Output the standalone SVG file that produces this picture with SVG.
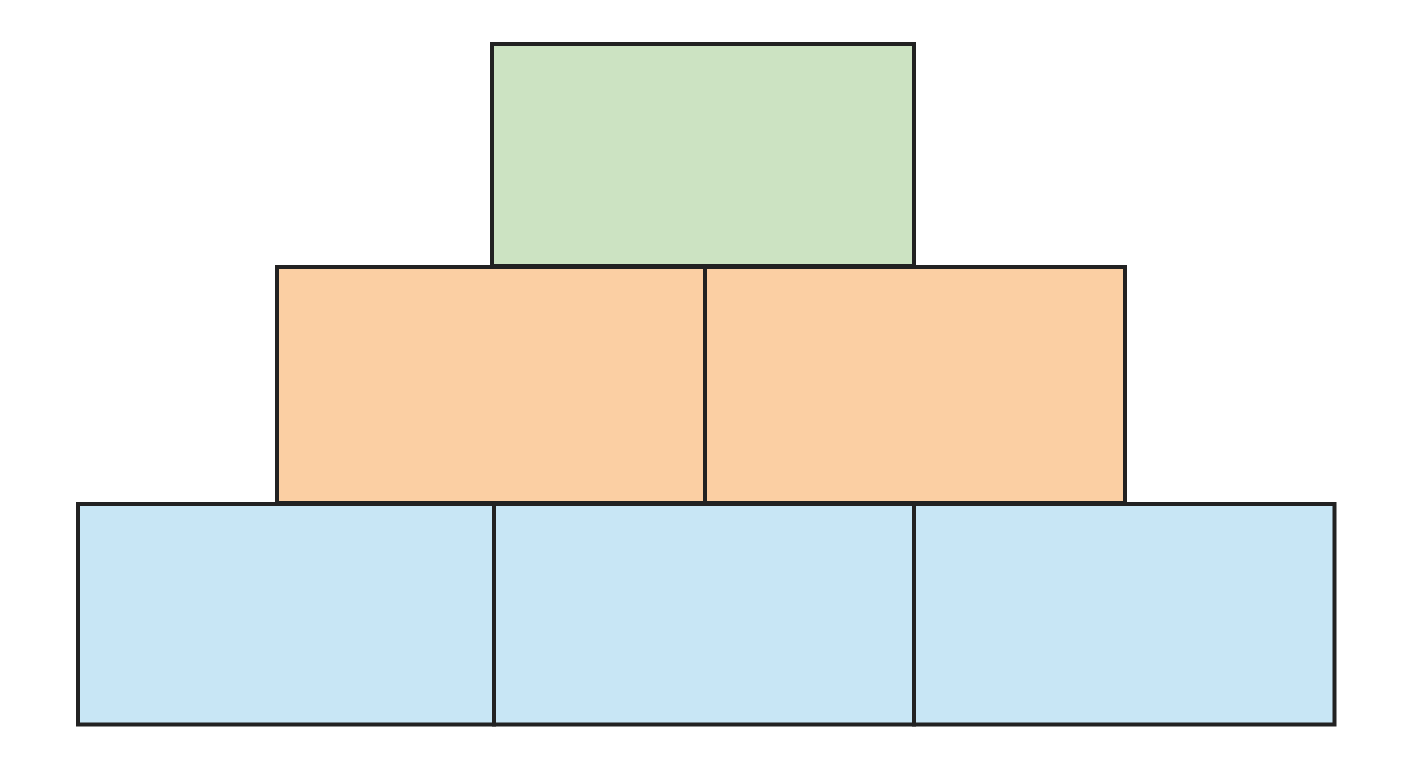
<svg xmlns="http://www.w3.org/2000/svg" width="1408" height="768" viewBox="0 0 1408 768">
<style>
.b{stroke:#222222;stroke-width:4;stroke-linejoin:miter}
.g{fill:#cce3c2}
.o{fill:#fbcfa3}
.l{fill:#c8e6f5}
</style>
<rect width="1408" height="768" fill="#ffffff"/>
<g id="top"><rect class="b g" x="492" y="44" width="422" height="222"/></g>
<g id="mid-left"><rect class="b o" x="277" y="267" width="428" height="236"/></g>
<g id="mid-right"><rect class="b o" x="705" y="267" width="420" height="236"/></g>
<g id="bot-left"><rect class="b l" x="78" y="504" width="416" height="220.5"/></g>
<g id="bot-mid"><rect class="b l" x="494" y="504" width="420" height="220.5"/></g>
<g id="bot-right"><rect class="b l" x="914" y="504" width="420.5" height="220.5"/></g>
<g id="connectors"></g>
</svg>
